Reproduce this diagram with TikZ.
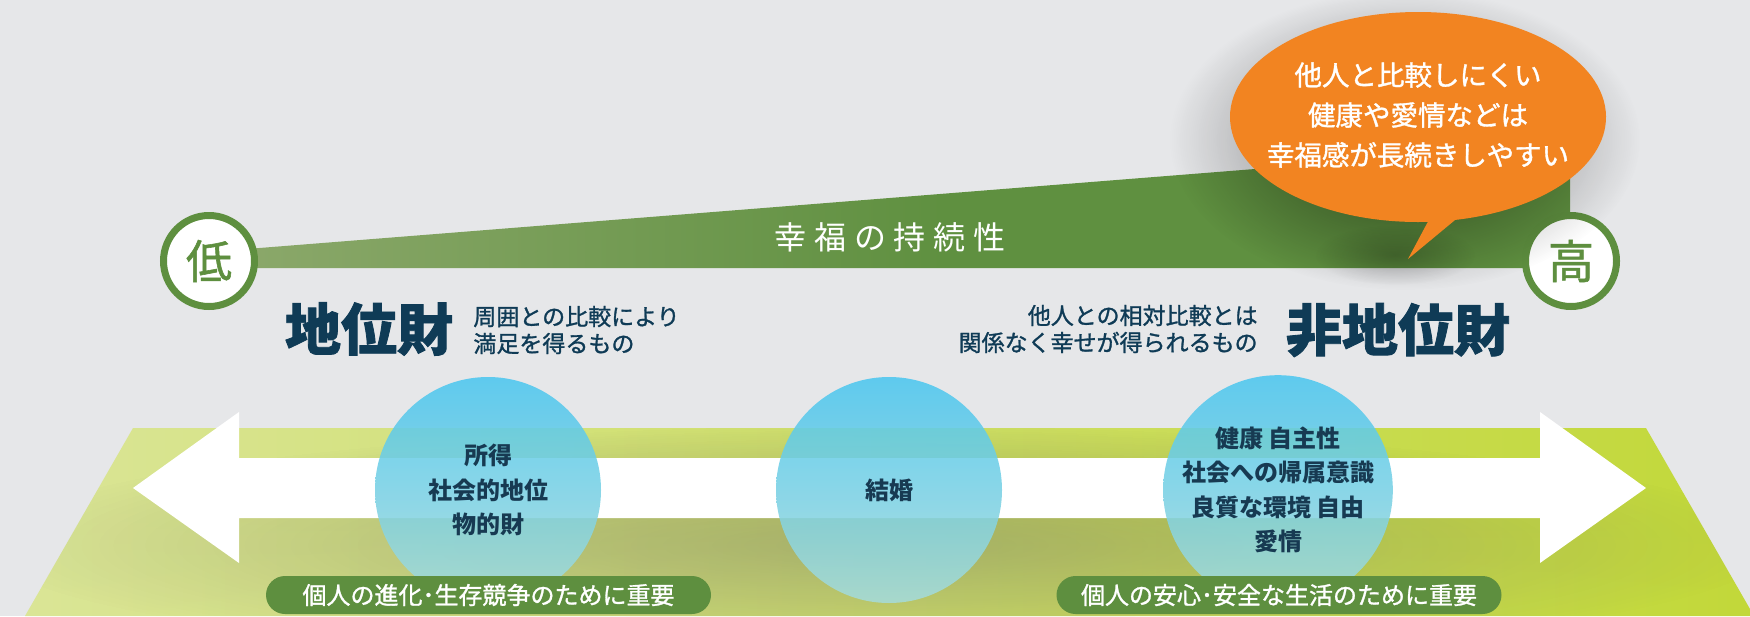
\documentclass[tikz,border=0pt]{standalone}
\usepackage{fontspec}
\usetikzlibrary{fadings}
\newfontfamily\jp{Noto Sans CJK JP}
\newfontfamily\jpmed[FakeBold=1.2]{Noto Sans CJK JP}
\newfontfamily\jpspaced[LetterSpace=24]{Noto Sans CJK JP}
\definecolor{bg}{HTML}{E6E7E9}
\definecolor{limeL}{HTML}{DAE596}
\definecolor{limeR}{HTML}{C2D839}
\definecolor{leafgreen}{HTML}{5E8F3F}
\definecolor{barL}{HTML}{8DA96C}
\definecolor{barR}{HTML}{5F9040}
\definecolor{navy}{HTML}{0F3B56}
\definecolor{circtext}{HTML}{173A52}
\definecolor{bubbleorange}{HTML}{F28421}
\definecolor{cyanTop}{HTML}{4BC6EF}
\definecolor{cyanBot}{HTML}{A6DBDA}
\definecolor{shade}{HTML}{3A3F20}
\tikzfading[name=softglow, inner color=transparent!0, outer color=transparent!100]
\pgfdeclarehorizontalshading{barshade}{100bp}{color(0bp)=(barL); color(25bp)=(barL); color(52bp)=(barR); color(100bp)=(barR)}
\tikzset{
  bigtitle/.style={font=\jp\bfseries\addfontfeature{FakeBold=1.5}\fontsize{28}{30}\selectfont, text=navy, inner sep=0},
  subtext/.style={font=\jpmed\fontsize{11.5}{13.5}\selectfont, text=navy, inner sep=0},
  levelcirc/.style={circle, draw=leafgreen, line width=3.5pt, fill=white, minimum size=45.5pt, inner sep=0, text=leafgreen, font=\jpmed\fontsize{23}{23}\selectfont},
  bluecirc/.style={circle, minimum size=113pt, inner sep=0, top color=cyanTop, bottom color=cyanBot, fill opacity=0.87, text opacity=1, text=circtext, align=center, font=\jp\bfseries\fontsize{12}{17.25}\selectfont},
  pill/.style={rounded corners=9.5pt, fill=leafgreen, minimum width=222.5pt, minimum height=19pt, inner sep=0, text=white, font=\jpmed\fontsize{12}{12}\selectfont},
  bubbletext/.style={text=white, align=center, inner sep=0, font=\jpmed\fontsize{13.75}{20}\selectfont},
  softshadow/.style={fill=black, path fading=softglow, fill opacity=#1},
}
\begin{document}
\begin{tikzpicture}[x=0.5pt,y=-0.5pt]
\path[use as bounding box] (0,0) rectangle (1750,616);
\fill[bg] (0,0) rectangle (1750,616);
% lime trapezoid
\path[left color=limeL, right color=limeR] (133,428) -- (1646,428) -- (1754,616) -- (25,616) -- cycle;
% soft darkening under the white arrow, kept inside the trapezoid
\begin{scope}
  \clip (133,428) -- (1646,428) -- (1754,616) -- (25,616) -- cycle;
  \fill[shade, path fading=softglow, fill opacity=0.22] (880,545) ellipse (900 and 120);
\end{scope}
% white double arrow
\path[fill=white] (133,488) -- (239,412) -- (239,458) -- (1540,458) -- (1540,412) -- (1646,488) -- (1540,563) -- (1540,518) -- (239,518) -- (239,563) -- cycle;
% blue circles
\node[bluecirc] (c1) at (488,490) {所得\\社会的地位\\物的財};
\node[bluecirc] (c2) at (889,490) {結婚};
\node[bluecirc] (c3) at (1278,490) {健康 自主性\\社会への帰属意識\\良質な環境 自由\\愛情};
% pills
\node[pill] (p1) at (488.5,595) {個人の進化･生存競争のために重要};
\node[pill] (p2) at (1279,595) {個人の安心･安全な生活のために重要};
% sustainability bar
\path[shading=barshade] (209,252) -- (1570,144) -- (1570,268) -- (209,268) -- cycle;
\node[font=\jpspaced\fontsize{16}{16}\selectfont, text=white, inner sep=0] (bartitle) at (890,237) {幸福の持続性};
% low / high circles
\node[levelcirc] (low) at (209,261) {低};
\node[levelcirc] (high) at (1571,261) {高};
% speech bubble shadow
\fill[softshadow=0.55] (1405,140) ellipse (235 and 150);
\fill[softshadow=0.22] (1395,255) ellipse (80 and 30);
% speech bubble
\path[fill=bubbleorange]
  (1418,117) ++(87:188 and 105) arc[start angle=87, end angle=438.6, x radius=188, y radius=105] -- (1408,259) -- cycle;
\node[bubbletext] (bubble) at (1418,115) {他人と比較しにくい\\健康や愛情などは\\幸福感が長続きしやすい};
% titles
\node[bigtitle] (posgoods) at (369,329) {地位財};
\node[subtext, anchor=west, align=left] (posdesc) at (473,330) {周囲との比較により\\満足を得るもの};
\node[bigtitle] (nonposgoods) at (1398,330) {非地位財};
\node[subtext, anchor=east, align=right] (nonposdesc) at (1258,329) {他人との相対比較とは\\関係なく幸せが得られるもの};
\end{tikzpicture}
\end{document}
